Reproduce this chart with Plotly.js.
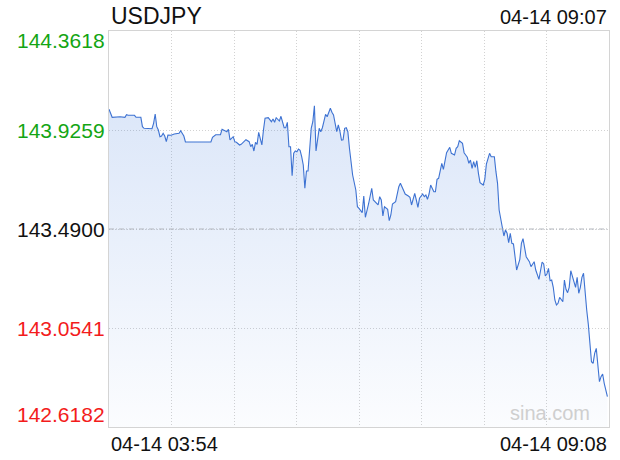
<!DOCTYPE html>
<html>
<head>
<meta charset="utf-8">
<script src="https://cdn.plot.ly/plotly-3.0.1.min.js"></script>
<style>html,body{margin:0;padding:0;background:#fff;}#chart{width:620px;height:460px;}</style>
</head>
<body>
<div id="chart"></div>
<script>
// minutes after 04-14 03:54
const minutes = [0,2,7,10,11,12,16,17,20,21,22,27,28,29,30,31,32,33,34,35,36,37,39,41,44,45,47,48,64,65,67,70,71,73,74,75,76,78,79,80,82,83,85,86,88,89,90,91,92,93,94,95,96,97,98,100,102,103,104,105,107,108,109,110,111,112,113,114,115,116,117,118,119,120,121,122,123,124,125,126,127,128,129,130,131,132,133,134,135,136,137,139,140,141,143,144,145,146,147,148,149,150,151,153,155,156,157,158,159,160,161,163,164,165,166,168,169,170,171,172,173,175,176,177,178,180,181,182,183,184,186,188,189,190,192,193,194,195,197,198,199,200,201,202,204,205,206,207,209,210,211,212,214,215,217,218,219,220,222,223,224,225,226,227,228,229,230,231,232,233,235,236,237,239,240,242,243,244,245,246,247,248,249,250,251,252,253,254,255,256,258,259,260,261,262,264,265,267,268,270,271,272,273,274,275,276,277,278,279,280,281,282,283,284,285,286,287,288,289,290,291,292,293,294,295,296,297,298,299,300,301,302,303,304,305,306,307,308,309,310,311,312,313];
const prices = [144.0170,143.9818,143.9845,143.9818,143.9933,143.9906,143.9906,143.9818,143.9818,143.9404,143.9334,143.9316,143.9554,143.9963,143.9404,143.9259,143.8964,143.8995,143.9114,143.8995,143.8744,143.9039,143.9026,143.9083,143.9114,143.9228,143.8995,143.8731,143.8731,143.8938,143.9052,143.9052,143.9290,143.9228,143.9184,143.9290,143.8819,143.8964,143.8744,143.8717,143.8599,143.8629,143.8775,143.8832,143.8744,143.8524,143.8629,143.8334,143.8717,143.8629,143.9158,143.8893,143.8599,143.9259,143.9774,143.9801,143.9624,143.9743,143.9598,143.9801,143.9655,143.9862,143.9624,143.9360,143.9360,143.9598,143.8524,143.8524,143.7247,143.8233,143.8334,143.8304,143.8422,143.8365,143.8083,143.7718,143.6692,143.7454,143.7454,143.8453,143.9334,143.9624,144.0329,143.8334,143.8893,143.9334,143.9184,143.9360,143.9655,143.9950,143.9845,144.0214,144.0038,143.9919,143.9184,143.9479,143.9215,143.8819,143.8832,143.9334,143.9360,143.9184,143.8453,143.7278,143.6617,143.5882,143.5811,143.5737,143.5618,143.6353,143.5415,143.6001,143.6397,143.6692,143.6177,143.6001,143.5957,143.6322,143.6177,143.5472,143.5882,143.5767,143.5265,143.5516,143.6001,143.6102,143.6397,143.6762,143.6912,143.6736,143.6441,143.6353,143.6296,143.5957,143.6472,143.6177,143.5855,143.6252,143.6441,143.6322,143.6397,143.6208,143.6441,143.6837,143.6542,143.6542,143.7088,143.7132,143.7793,143.7529,143.7938,143.8259,143.8497,143.8233,143.8158,143.8453,143.8524,143.8788,143.8673,143.8259,143.8158,143.8057,143.7793,143.7938,143.7573,143.7863,143.7617,143.7907,143.7352,143.6939,143.6837,143.7088,143.7762,143.8233,143.8083,143.8083,143.7423,143.6912,143.5737,143.5371,143.4931,143.4592,143.4856,143.4711,143.4297,143.4711,143.4270,143.4240,143.3680,143.3095,143.3566,143.4270,143.4473,143.3975,143.3680,143.3460,143.3240,143.3460,143.3095,143.2685,143.3170,143.3447,143.3359,143.2831,143.2919,143.3170,143.2624,143.2654,143.2333,143.1774,143.1554,143.1629,143.1893,143.1774,143.1699,143.2654,143.2245,143.2095,143.2333,143.3064,143.2831,143.2654,143.2333,143.2773,143.2069,143.2333,143.2773,143.2949,143.1919,143.1334,143.0710,142.9867,142.9057,142.8987,142.9427,142.9647,142.8837,142.8177,142.8397,142.8516,142.8106,142.7736,142.7516];

const yLevels = [144.3618, 143.9259, 143.4900, 143.0541, 142.6182];
const yLabels = ['144.3618', '143.9259', '143.4900', '143.0541', '142.6182'];
const yColors = ['#14a514', '#14a514', '#111111', '#f31c1c', '#f31c1c'];
const symbol = 'USDJPY';
const lastTime = '04-14 09:07';
const xStartLabel = '04-14 03:54';
const xEndLabel = '04-14 09:08';
const xSpan = 314;
const watermark = 'sina.com';

const font = 'Liberation Sans, Arial, Helvetica, sans-serif';

const trace = {
  x: minutes, y: prices, type: 'scatter', mode: 'lines',
  line: {color: '#3d72d2', width: 1.1},
  fill: 'tozeroy',
  fillgradient: {
    type: 'vertical',
    start: yLevels[4], stop: prices.reduce((a, b) => Math.max(a, b)),
    colorscale: [[0, 'rgba(60,120,220,0.02)'], [1, 'rgba(60,120,220,0.18)']]
  },
  hoverinfo: 'skip'
};

const annotations = [
  {text: symbol, xref: 'paper', yref: 'paper', x: 0, y: 1, xanchor: 'left', yanchor: 'middle', yshift: 15, showarrow: false, font: {family: font, size: 23, color: '#111'}},
  {text: lastTime, xref: 'paper', yref: 'paper', x: 1, y: 1, xanchor: 'right', yanchor: 'middle', yshift: 14, showarrow: false, font: {family: font, size: 20, color: '#111'}},
  {text: xStartLabel, xref: 'paper', yref: 'paper', x: 0, y: 0, xanchor: 'left', yanchor: 'middle', yshift: -17, showarrow: false, font: {family: font, size: 20, color: '#111'}},
  {text: xEndLabel, xref: 'paper', yref: 'paper', x: 1, y: 0, xanchor: 'right', yanchor: 'middle', yshift: -17, showarrow: false, font: {family: font, size: 20, color: '#111'}},
  {text: watermark, xref: 'paper', yref: 'paper', x: 0.965, y: 0, xanchor: 'right', yanchor: 'middle', yshift: 14, showarrow: false, font: {family: font, size: 20, color: '#cfcfcf'}}
];
yLevels.forEach((v, i) => {
  let shift = 0;
  if (i === 0) shift = -9;
  if (i === yLevels.length - 1) shift = 13;
  annotations.push({text: yLabels[i], xref: 'paper', yref: 'y', x: 0, y: v, xanchor: 'right', yanchor: 'middle', xshift: -2, yshift: shift, showarrow: false, font: {family: font, size: 21, color: yColors[i]}});
});

const layout = {
  width: 620, height: 460,
  margin: {l: 109, r: 11, t: 31, b: 33},
  paper_bgcolor: '#ffffff', plot_bgcolor: '#ffffff',
  showlegend: false,
  xaxis: {
    range: [0, xSpan], tick0: 0, dtick: xSpan / 8, showticklabels: false, ticks: '',
    showgrid: true, gridcolor: '#d2d2d2', griddash: '1px,2px', gridwidth: 1,
    showline: true, mirror: true, linecolor: '#d4d4d4', linewidth: 1, zeroline: false, fixedrange: true
  },
  yaxis: {
    range: [yLevels[4], yLevels[0]], tickmode: 'array', tickvals: yLevels, showticklabels: false, ticks: '',
    showgrid: true, gridcolor: '#d2d2d2', griddash: '1px,2px', gridwidth: 1,
    showline: true, mirror: true, linecolor: '#d4d4d4', linewidth: 1, zeroline: false, fixedrange: true
  },
  shapes: [
    {type: 'line', xref: 'paper', yref: 'y', x0: 0, x1: 1, y0: yLevels[2], y1: yLevels[2], line: {color: '#b2b6bd', width: 1, dash: '5px,2px,1px,2px'}, layer: 'above'}
  ],
  annotations: annotations
};

Plotly.newPlot('chart', [trace], layout, {staticPlot: true, displayModeBar: false});
</script>
</body>
</html>
